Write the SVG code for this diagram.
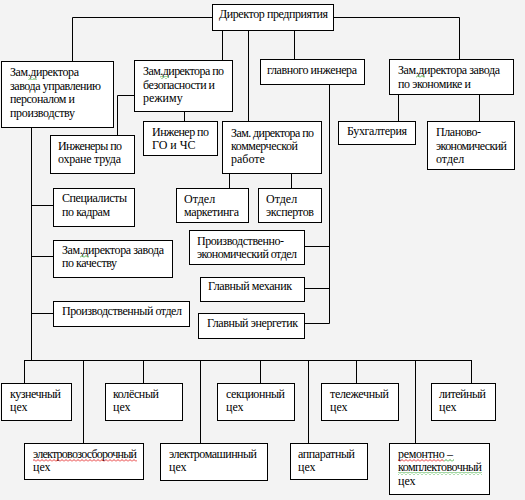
<svg xmlns="http://www.w3.org/2000/svg" width="525" height="500" viewBox="0 0 525 500">
<style>
.b{fill:#fff;stroke:#000;stroke-width:1}
.c{fill:none;stroke:#000;stroke-width:1}
text{font-family:"Liberation Serif","Times New Roman",serif;font-size:12px;fill:#000}
</style>
<defs>
<pattern id="wr" width="4" height="3" patternUnits="userSpaceOnUse"><path d="M0,2.5L2,0.5L4,2.5" fill="none" stroke="#e00000" stroke-width="0.8"/></pattern>
<pattern id="wg" width="4" height="3" patternUnits="userSpaceOnUse"><path d="M0,2.5L2,0.5L4,2.5" fill="none" stroke="#1a9a1a" stroke-width="0.8"/></pattern>
</defs>
<rect x="0" y="0" width="525" height="500" fill="#f3f3f3"/>
<g id="connectors">
<path class="c" d="M212,17.5H72.5V61M333,17.5H459.5V59M222.5,30V60M248.5,30V121M294.5,30V59M134,95.5H117.5V135M184.5,111V121M398.5,94V121M479.5,94V121M229.5,173V188M291.5,173V188M329.5,84V323.5M304,246.5H329.5M304,288.5H329.5M304,323.5H329.5M31.5,127V360.5M31.5,205.5H53M31.5,256.5H53M31.5,313.5H53M24.5,360.5H471.5M24.5,360V383M83.5,360V443M143.5,360V383M200.5,360V443M260.5,360V383M308.5,360V443M356.5,360V383M415.5,360V443M471.5,360V383"/>
</g>
<g id="director"><rect class="b" x="212.5" y="4.5" width="121" height="26"/><text x="219" y="18" textLength="109">Директор предприятия</text></g>
<g id="zam-personal"><rect class="b" x="1.5" y="61.5" width="112" height="66"/><text x="10" y="76" textLength="69">Зам.директора</text><text x="10" y="90" textLength="91">завода управлению</text><text x="10" y="103" textLength="65">персоналом и</text><text x="10" y="117" textLength="65">производству</text><rect x="28" y="77" width="9" height="3" fill="url(#wg)"/></g>
<g id="zam-bezop"><rect class="b" x="134.5" y="60.5" width="98" height="51"/><text x="143" y="75" textLength="81">Зам.директора по</text><text x="143" y="89" textLength="72">безопасности и</text><text x="143" y="102">режиму</text><rect x="160" y="76" width="9" height="3" fill="url(#wg)"/></g>
<g id="glav-ing"><rect class="b" x="260.5" y="59.5" width="104" height="25"/><text x="267" y="74" textLength="90">главного инженера</text></g>
<g id="zam-econ"><rect class="b" x="389.5" y="59.5" width="124" height="35"/><text x="398" y="74" textLength="102">Зам.директора завода</text><text x="398" y="88" textLength="73">по экономике и</text><rect x="416" y="75" width="9" height="3" fill="url(#wg)"/></g>
<g id="ing-ohrana"><rect class="b" x="50.5" y="135.5" width="84" height="38"/><text x="58" y="150" textLength="64">Инженеры по</text><text x="58" y="163" textLength="63">охране труда</text></g>
<g id="ing-go"><rect class="b" x="143.5" y="121.5" width="74" height="34"/><text x="152" y="136" textLength="57">Инженер по</text><text x="152" y="149">ГО и ЧС</text></g>
<g id="zam-komm"><rect class="b" x="222.5" y="121.5" width="99" height="52"/><text x="231" y="137" textLength="83">Зам. директора по</text><text x="231" y="150" textLength="67">коммерческой</text><text x="231" y="163">работе</text></g>
<g id="buh"><rect class="b" x="338.5" y="121.5" width="77" height="23"/><text x="347" y="135" textLength="60">Бухгалтерия</text></g>
<g id="plan"><rect class="b" x="427.5" y="121.5" width="87" height="48"/><text x="436" y="136" textLength="45">Планово-</text><text x="436" y="150" textLength="71">экономический</text><text x="436" y="163">отдел</text></g>
<g id="spec-kadry"><rect class="b" x="53.5" y="188.5" width="81" height="38"/><text x="62" y="202" textLength="65">Специалисты</text><text x="62" y="216" textLength="48">по кадрам</text></g>
<g id="zam-kach"><rect class="b" x="53.5" y="240.5" width="119" height="37"/><text x="62" y="254" textLength="102">Зам.директора завода</text><text x="62" y="267" textLength="55">по качеству</text><rect x="80" y="255" width="9" height="3" fill="url(#wg)"/></g>
<g id="proizv-otdel"><rect class="b" x="53.5" y="301.5" width="136" height="25"/><text x="62" y="315" textLength="120">Производственный отдел</text></g>
<g id="marketing"><rect class="b" x="176.5" y="188.5" width="72" height="34"/><text x="184" y="203">Отдел</text><text x="184" y="216" textLength="55">маркетинга</text></g>
<g id="experts"><rect class="b" x="258.5" y="188.5" width="63" height="34"/><text x="266" y="203">Отдел</text><text x="266" y="216" textLength="48">экспертов</text></g>
<g id="pe-otdel"><rect class="b" x="189.5" y="230.5" width="115" height="34"/><text x="197" y="245" textLength="87">Производственно-</text><text x="197" y="258" textLength="100">экономический отдел</text></g>
<g id="gl-meh"><rect class="b" x="200.5" y="277.5" width="104" height="24"/><text x="208" y="290" textLength="84">Главный механик</text></g>
<g id="gl-energ"><rect class="b" x="198.5" y="313.5" width="106" height="25"/><text x="207" y="327" textLength="91">Главный энергетик</text></g>
<g id="kuzn"><rect class="b" x="1.5" y="383.5" width="70" height="37"/><text x="10" y="398" textLength="51">кузнечный</text><text x="10" y="411">цех</text></g>
<g id="koles"><rect class="b" x="105.5" y="383.5" width="77" height="37"/><text x="113" y="398" textLength="46">колёсный</text><text x="113" y="411">цех</text></g>
<g id="sekc"><rect class="b" x="217.5" y="383.5" width="77" height="37"/><text x="226" y="398" textLength="59">секционный</text><text x="226" y="411">цех</text></g>
<g id="telezh"><rect class="b" x="321.5" y="383.5" width="77" height="37"/><text x="330" y="398" textLength="59">тележечный</text><text x="330" y="411">цех</text></g>
<g id="litein"><rect class="b" x="431.5" y="383.5" width="64" height="37"/><text x="439" y="398" textLength="47">литейный</text><text x="439" y="411">цех</text></g>
<g id="elvoz"><rect class="b" x="24.5" y="443.5" width="119" height="36"/><text x="33" y="458" textLength="104">электровозосборочный</text><text x="33" y="471">цех</text><rect x="33" y="459" width="104" height="3" fill="url(#wr)"/></g>
<g id="elmash"><rect class="b" x="160.5" y="443.5" width="107" height="37"/><text x="169" y="458" textLength="88">электромашинный</text><text x="169" y="471">цех</text></g>
<g id="appar"><rect class="b" x="290.5" y="443.5" width="77" height="36"/><text x="298" y="458" textLength="57">аппаратный</text><text x="298" y="471">цех</text></g>
<g id="remont"><rect class="b" x="389.5" y="443.5" width="100" height="51"/><text x="398" y="458" textLength="55">ремонтно –</text><text x="398" y="471" textLength="84">комплектовочный</text><text x="398" y="485">цех</text><rect x="398" y="459" width="46" height="3" fill="url(#wr)"/><rect x="444" y="459" width="10" height="3" fill="url(#wg)"/><rect x="398" y="472" width="84" height="3" fill="url(#wg)"/></g>
</svg>
